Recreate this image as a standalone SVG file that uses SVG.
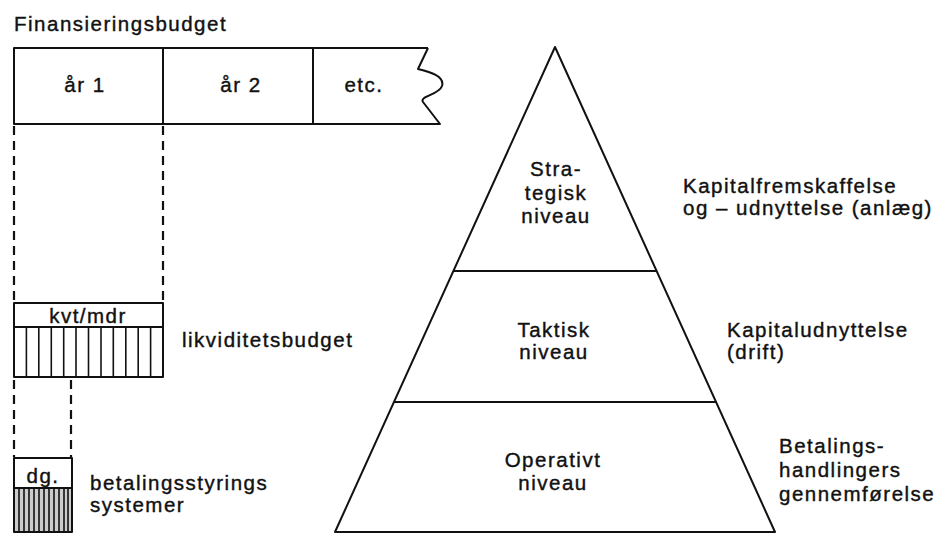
<svg xmlns="http://www.w3.org/2000/svg" width="941" height="534" viewBox="0 0 941 534">
<style>
  .t { font-family: "Liberation Sans", Arial, sans-serif; font-size: 20.5px; letter-spacing: 1.5px; fill: #111; stroke: #111; stroke-width: 0.4px; }
  .m { text-anchor: middle; }
  .ln { stroke: #111; stroke-width: 2; fill: none; stroke-linejoin: round; }
  .thin { stroke: #111; stroke-width: 1.6; fill: none; }
  .dash { stroke: #111; stroke-width: 2.2; fill: none; stroke-dasharray: 9 6; }
</style>
<rect width="941" height="534" fill="#fff"/>

<g id="finansieringsbudget">
  <text class="t" x="14" y="31">Finansieringsbudget</text>
  <path class="ln" d="M428,48 L14,48 L14,124 L440,124 L423,102 C419,96 439,95 442,86 C445,76 430,72 418,69 L428,48"/>
  <line class="ln" x1="163" y1="48" x2="163" y2="124"/>
  <line class="ln" x1="313" y1="48" x2="313" y2="124"/>
  <text class="t m" x="85" y="92">år 1</text>
  <text class="t m" x="241" y="92">år 2</text>
  <text class="t m" x="364" y="92">etc.</text>
</g>

<g id="connectors">
  <line class="dash" x1="14" y1="126" x2="14" y2="302"/>
  <line class="dash" x1="163" y1="126" x2="163" y2="302"/>
  <line class="dash" x1="14" y1="380" x2="14" y2="457"/>
  <line class="dash" x1="71" y1="380" x2="71" y2="457"/>
</g>

<g id="likviditetsbudget">
  <rect class="ln" x="14" y="303" width="149" height="74"/>
  <line class="ln" x1="14" y1="327" x2="163" y2="327"/>
  <text class="t m" x="88" y="323">kvt/mdr</text>
  <g class="thin">
    <line x1="26.4" y1="327" x2="26.4" y2="377"/>
    <line x1="38.8" y1="327" x2="38.8" y2="377"/>
    <line x1="51.3" y1="327" x2="51.3" y2="377"/>
    <line x1="63.7" y1="327" x2="63.7" y2="377"/>
    <line x1="76" y1="327" x2="76" y2="377"/>
    <line x1="88.5" y1="327" x2="88.5" y2="377"/>
    <line x1="101" y1="327" x2="101" y2="377"/>
    <line x1="113.3" y1="327" x2="113.3" y2="377"/>
    <line x1="125.8" y1="327" x2="125.8" y2="377"/>
    <line x1="138.2" y1="327" x2="138.2" y2="377"/>
    <line x1="150.6" y1="327" x2="150.6" y2="377"/>
  </g>
  <text class="t" x="182" y="347">likviditetsbudget</text>
</g>

<g id="betalingsstyring">
  <rect x="14" y="488" width="58" height="44" fill="#ccc"/>
  <rect class="ln" x="14" y="458" width="58" height="74"/>
  <line class="ln" x1="14" y1="488" x2="72" y2="488"/>
  <text class="t m" x="43" y="483">dg.</text>
  <g class="thin" stroke-width="1.3">
    <line x1="19" y1="488" x2="19" y2="532"/>
    <line x1="24" y1="488" x2="24" y2="532"/>
    <line x1="29" y1="488" x2="29" y2="532"/>
    <line x1="34" y1="488" x2="34" y2="532"/>
    <line x1="39" y1="488" x2="39" y2="532"/>
    <line x1="44" y1="488" x2="44" y2="532"/>
    <line x1="49" y1="488" x2="49" y2="532"/>
    <line x1="54" y1="488" x2="54" y2="532"/>
    <line x1="59" y1="488" x2="59" y2="532"/>
    <line x1="64" y1="488" x2="64" y2="532"/>
    <line x1="68" y1="488" x2="68" y2="532"/>
  </g>
  <text class="t" x="90" y="490">betalingsstyrings</text>
  <text class="t" x="90" y="512">systemer</text>
</g>

<g id="pyramide">
  <path class="ln" d="M555,47 L775,532 L335,532 Z"/>
  <line class="ln" stroke-width="2.6" x1="454" y1="271" x2="657" y2="271"/>
  <line class="ln" stroke-width="2.4" x1="394" y1="402" x2="716" y2="402"/>
</g>

<g id="strategisk">
  <text class="t m" x="556" y="176">Stra-</text>
  <text class="t m" x="556" y="200">tegisk</text>
  <text class="t m" x="556" y="223">niveau</text>
  <text class="t" x="683" y="193">Kapitalfremskaffelse</text>
  <text class="t" x="683" y="215">og – udnyttelse (anlæg)</text>
</g>

<g id="taktisk">
  <text class="t m" x="554" y="337">Taktisk</text>
  <text class="t m" x="554" y="359">niveau</text>
  <text class="t" x="727" y="337">Kapitaludnyttelse</text>
  <text class="t" x="727" y="359">(drift)</text>
</g>

<g id="operativt">
  <text class="t m" x="553" y="467">Operativt</text>
  <text class="t m" x="553" y="490">niveau</text>
  <text class="t" x="779" y="453">Betalings-</text>
  <text class="t" x="779" y="477">handlingers</text>
  <text class="t" x="779" y="501">gennemførelse</text>
</g>
</svg>
